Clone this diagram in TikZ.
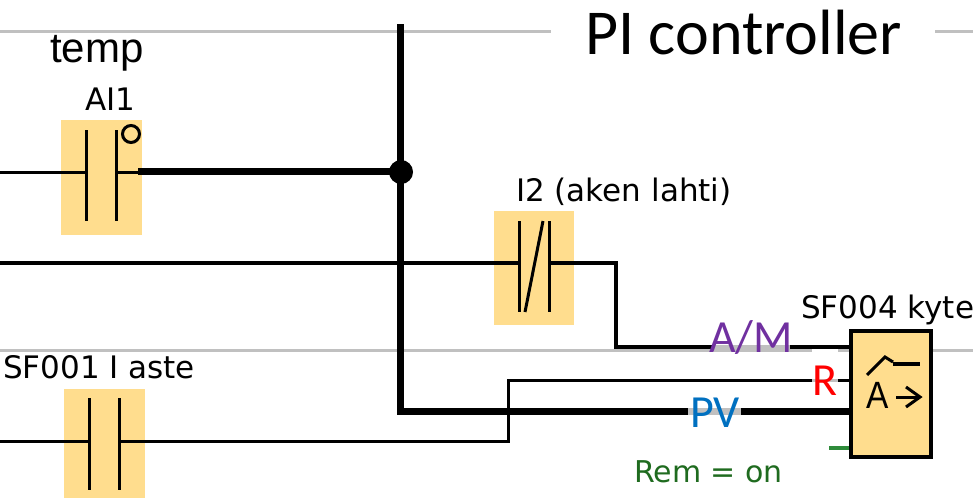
\documentclass[tikz,border=0pt]{standalone}
\usepackage{fontspec}
\setmainfont{Liberation Sans}
\newfontfamily\calib{Carlito}
\newfontfamily\pixfont{DejaVu Sans}
\definecolor{boxfill}{HTML}{FFDD8E}
\definecolor{rule}{HTML}{C0C0C0}
\definecolor{purp}{HTML}{7030A0}
\definecolor{blu}{HTML}{0070C0}
\definecolor{grn}{HTML}{2E8B3A}
\definecolor{darkgrn}{HTML}{1F6B1F}
\tikzset{
  x=1pt,y=-1pt,
  contactbox/.style={fill=boxfill,draw=none,inner sep=0pt,minimum width=#1},
  guide/.style={draw=rule,line width=3pt},
  wire/.style={draw=black,line width=3pt},
  wirethick/.style={draw=black,line width=4pt},
  bus/.style={draw=black,line width=7pt},
  bar/.style={draw=black,line width=3pt},
  tag/.style={font=\pixfont\fontsize{31}{33}\selectfont,inner sep=0pt,text=black,anchor=base west},
  sig/.style={font=\calib\fontsize{46}{48}\selectfont,inner sep=0pt,anchor=base},
}
\begin{document}
\begin{tikzpicture}
\useasboundingbox (0,0) rectangle (973,498);
\fill[white] (0,0) rectangle (973,498);
% guides
\coordinate (g1a) at (0,31); \coordinate (g1b) at (551,31);
\coordinate (g2a) at (935,31); \coordinate (g2b) at (973,31);
\coordinate (g3a) at (0,350); \coordinate (g3b) at (973,350);
\draw[guide] (g1a) -- (g1b);
\draw[guide] (g2a) -- (g2b);
\draw[guide] (g3a) -- (g3b);
% boxes
\node[contactbox=81pt,minimum height=115pt] (ai) at (101.5,177.5) {};
\node[contactbox=80pt,minimum height=114pt] (i2) at (534,268) {};
\node[contactbox=81pt,minimum height=109pt] (sf1) at (104.5,443.5) {};
\node[fill=boxfill,draw=black,line width=4pt,inner sep=0pt,minimum width=80pt,minimum height=126pt] (pi) at (891,394) {};
% anchor coordinates
\coordinate (aiL) at (86,172.5); \coordinate (aiR) at (116,172.5);
\coordinate (i2L) at (519,263); \coordinate (i2R) at (549,263);
\coordinate (s1L) at (90,441); \coordinate (s1R) at (120,441);
\coordinate (lA) at (0,172.5); \coordinate (lB) at (0,263); \coordinate (lC) at (0,441);
\coordinate (top) at (400,24); \coordinate (bot) at (400,411.5);
\coordinate (am) at (pi.west |- 0,347);
\coordinate (rr) at (pi.west |- 0,380);
\coordinate (pv) at (pi.west |- bot);
\coordinate (rem) at (pi.west |- 0,448);
\coordinate (remS) at (829,448);
\coordinate (thickS) at (138,171);
\node[circle,fill=black,inner sep=0pt,minimum size=24pt] (junc) at (401,172) {};
% wires
\draw[wire] (lA) -- (aiL);
\draw[wire] (aiR) -- (138,172.5);
\draw[wirethick] (lB) -- (i2L);
\draw[wirethick] (i2R) -| (616,347) -- (am);
\draw[wire] (lC) -- (s1L);
\draw[wire] (s1R) -| (508,380) -- (rr);
\draw[bus] (thickS) -- (thickS -| junc.center);
\draw[bus] (top) -- (bot) -- (pv);
\draw[draw=grn,line width=4pt] (remS) -- (rem);
% contacts
\draw[bar] (86,130) -- (86,221); \draw[bar] (116,130) -- (116,221);
\draw[line width=3pt] (131,134) circle (8.5);
\draw[bar] (519,221) -- (519,312); \draw[bar] (549,221) -- (549,312);
\draw[bar] (525,312) -- (543,221);
\draw[bar] (89.5,398) -- (89.5,490); \draw[bar] (119.5,398) -- (119.5,490);
% block symbol
\draw[line width=3pt] (867,375) -- (885,357) -- (893,362);
\draw[line width=4pt] (893,364) -- (920,364);
\node[font=\fontsize{38}{38}\selectfont,inner sep=0pt,xscale=.88,anchor=base] (sa) at (877.5,408) {A};
\draw[line width=3pt] (896,397) -- (919,397);
\draw[line width=3pt] (906,387) -- (920,397) -- (906,407);
% labels
\node[font=\fontsize{42}{44}\selectfont,inner sep=0pt,anchor=base west] (tt) at (50,62) {temp};
\node[tag] (ai1t) at (85,110) {AI1};
\node[tag] (i2t) at (516,201) {I2 (aken lahti)};
\node[tag] (s1t) at (3,378) {SF001 I aste};
\node[tag] (s4t) at (801,318) {SF004 kyte};
\node[tag,text=darkgrn,font=\pixfont\fontsize{30}{32}\selectfont] (remt) at (634,482) {Rem = on};
\node[font=\calib\fontsize{64}{66}\selectfont,anchor=base west,inner sep=0pt] (title) at (585,54) {PI controller};
% glow patches where the signal names interrupt their wires
\fill[rule] (712,345) rectangle (790,352);
\fill[white] (812,349) rectangle (838,352);
\fill[rule] (812,378.5) rectangle (838,381.5);
\fill[rule] (688,408) rectangle (741,415);
\node[sig,text=purp] (lam) at (751,352) {A/M};
\node[sig,text=red] (lr) at (825,395) {R};
\node[sig,text=blu] (lpv) at (715,427) {PV};
\end{tikzpicture}
\end{document}
